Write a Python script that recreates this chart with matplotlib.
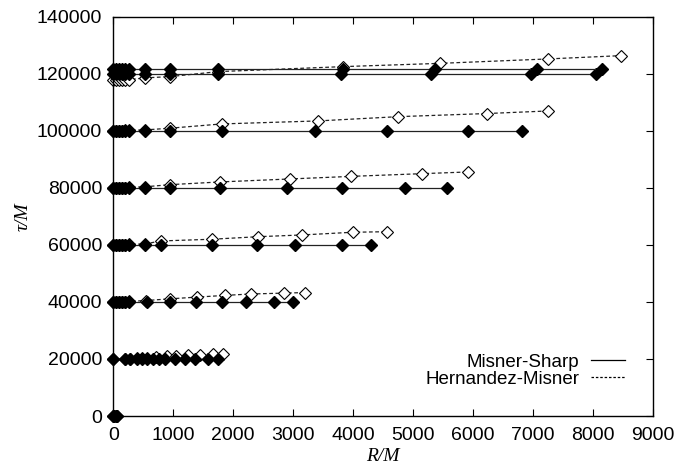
import matplotlib
matplotlib.use("Agg")
import matplotlib.pyplot as plt
from matplotlib.lines import Line2D

plt.rcParams['font.family'] = ['Liberation Sans', 'DejaVu Sans']

# Misner-Sharp slices: shell radii R/M at constant tau/M
ms_tau = [0, 20000, 40000, 60000, 80000, 100000, 120000, 121700]
ms_r = [
    [0, 20, 40, 60],
    [0, 200, 280, 390, 480, 570, 670, 760, 860, 1030, 1200, 1370, 1580, 1750],
    [0, 50, 100, 150, 200, 260, 560, 945, 1380, 1810, 2210, 2680, 2990],
    [0, 50, 100, 150, 200, 260, 530, 790, 1640, 2390, 3030, 3810, 4290],
    [0, 50, 100, 150, 200, 260, 530, 945, 1780, 2890, 3810, 4860, 5560],
    [0, 50, 100, 150, 200, 260, 530, 945, 1810, 3360, 4560, 5910, 6810],
    [0, 50, 100, 150, 200, 260, 530, 945, 1750, 3800, 5300, 6970, 8050],
    [0, 50, 100, 150, 200, 260, 530, 945, 1750, 3830, 5370, 7060, 8150],
]

# Hernandez-Misner slices: tau/M varies along each slice
hm_r = [
    [0, 20, 40, 60],
    [0, 200, 280, 390, 480, 570, 720, 890, 1045, 1240, 1445, 1670, 1830],
    [0, 50, 100, 150, 200, 260, 545, 945, 1390, 1860, 2290, 2840, 3190],
    [0, 50, 100, 150, 200, 260, 530, 790, 1640, 2420, 3140, 3990, 4560],
    [0, 50, 100, 150, 200, 260, 530, 945, 1780, 2950, 3960, 5140, 5910],
    [0, 50, 100, 150, 200, 260, 530, 945, 1810, 3410, 4750, 6230, 7250],
    [0, 50, 100, 150, 200, 260, 530, 945, 1750, 3830, 5450, 7250, 8460],
]
hm_tau = [
    [0, 0, 0, 0],
    [20000, 20050, 20100, 20200, 20300, 20400, 20700, 20900, 21100, 21300, 21500, 21700, 21900],
    [40000, 40000, 40050, 40100, 40150, 40200, 40500, 41100, 41700, 42300, 42800, 43100, 43300],
    [60000, 60000, 60050, 60100, 60150, 60200, 60350, 61400, 62000, 62900, 63500, 64450, 64650],
    [80000, 80000, 80050, 80100, 80150, 80200, 80400, 81150, 82100, 83150, 84050, 85000, 85600],
    [100000, 100000, 100050, 100100, 100150, 100200, 100350, 100950, 102450, 103500, 105000, 106100, 107000],
    [117800, 117800, 117850, 117900, 117950, 118000, 118600, 119050, 120800, 122550, 123700, 125250, 126400],
]

xticks = list(range(0, 9001, 1000))
yticks = list(range(0, 140001, 20000))

fig = plt.figure(figsize=(6.74, 4.69), dpi=100)
ax = fig.add_axes([0.168, 0.113, 0.801, 0.851])

for r, t in zip(hm_r, hm_tau):
    ax.plot(r, t, color='#222222', linewidth=0.9, linestyle=(0, (3, 2)),
            marker='D', markersize=6, markerfacecolor='white',
            markeredgecolor='black', markeredgewidth=0.8, clip_on=False)

for r, t in zip(ms_r, ms_tau):
    ax.plot(r, [t] * len(r), color='#222222', linewidth=0.9,
            marker='D', markersize=6, markerfacecolor='black',
            markeredgecolor='black', clip_on=False)

ax.set_xlim(0, 9000)
ax.set_ylim(0, 140000)
ax.set_xticks(xticks)
ax.set_yticks(yticks)
ax.tick_params(direction='in', top=True, right=True, length=5, width=0.8,
               labelsize=14, pad=8)
for s in ax.spines.values():
    s.set_linewidth(1.0)

ax.set_xlabel('R/M', family=['Liberation Serif', 'DejaVu Serif'], style='italic',
              fontsize=14, labelpad=3)
ax.set_ylabel('τ/M', family=['Liberation Serif', 'DejaVu Serif'], style='italic',
              fontsize=14, labelpad=4)

handles = [Line2D([], [], color='black', linewidth=0.9),
           Line2D([], [], color='black', linewidth=0.9, linestyle=(0, (2, 1.5)))]
ax.legend(handles, ['Misner-Sharp', 'Hernandez-Misner'], loc='upper right',
          bbox_to_anchor=(0.948, 0.156), frameon=False, markerfirst=False,
          fontsize=13.5, handlelength=1.8, labelspacing=0.0, borderpad=0,
          borderaxespad=0, handletextpad=0.65)

fig.savefig('out.png', dpi=100)
